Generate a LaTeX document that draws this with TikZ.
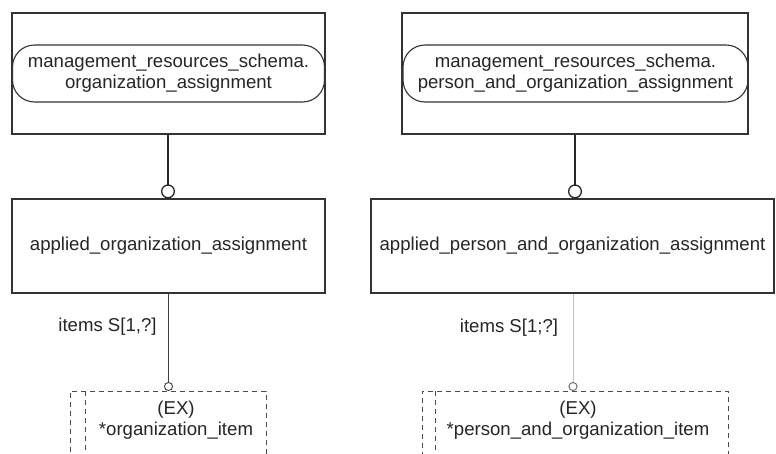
\documentclass[tikz,border=0pt]{standalone}
\usepackage{fontspec}
\setmainfont{Liberation Sans}
\usetikzlibrary{arrows.meta}
\begin{document}
\begin{tikzpicture}[x=1pt,y=-1pt,
  font=\fontsize{18.6}{21}\selectfont,
  every node/.style={text=black!85},
  entbox/.style={draw=black!80, line width=1.2pt, inner sep=0pt},
  refbox/.style={draw=black!80, line width=1.1pt, rounded corners=22pt, inner sep=0pt, align=center},
  exbox/.style={draw=black!70, line width=0.9pt, dash pattern=on 5pt off 4pt, inner sep=0pt},
  exline/.style={draw=black!70, line width=0.9pt, dash pattern=on 5pt off 4pt},
  supconn/.style={draw=black!85, line width=1.8pt, -{Circle[open,length=14pt,width=14pt,line width=1.3pt]}},
  attconn/.style={draw=black!75, line width=0.9pt, -{Circle[open,length=9pt,width=9pt,line width=0.9pt]}},
  lbl/.style={inner sep=0pt}
]
\clip (0,0) rectangle (776,453);
\fill[white] (0,0) rectangle (776,453);

% ---- left column ----
\node[entbox, minimum width=313pt, minimum height=121pt] (ta1) at (168.5,73.5) {};
\node[refbox, minimum width=312pt, minimum height=57pt] (tr1) at (168.5,73.5)
  {management\_resources\_schema.\\organization\_assignment};
\node[entbox, minimum width=313pt, minimum height=94pt] (bb1) at (168.5,246) {applied\_organization\_assignment};
\node[exbox, minimum width=196pt, minimum height=110pt, anchor=north] (ex1) at (168,391) {};
\draw[exline] ([xshift=16pt]ex1.north west) -- ([xshift=16pt]ex1.south west);
\node[lbl, align=center] (ex1t) at (176,420.5) {(EX)\\*organization\_item};
\node[lbl] (it1) at (107.5,327) {items S[1,?]};

\draw[supconn] ([xshift=-0.5pt]ta1.south) -- ([xshift=-0.5pt]ta1.south |- bb1.north);
\draw[attconn] (bb1.south) -- (bb1.south |- ex1.north);

% ---- right column ----
\node[entbox, minimum width=346pt, minimum height=121pt] (ta2) at (575,73.5) {};
\node[refbox, minimum width=345pt, minimum height=57pt] (tr2) at (575.5,73.5)
  {management\_resources\_schema.\\person\_and\_organization\_assignment};
\node[entbox, minimum width=403pt, minimum height=94pt] (bb2) at (572.5,246) {applied\_person\_and\_organization\_assignment};
\node[exbox, minimum width=306pt, minimum height=110pt, anchor=north] (ex2) at (575,391) {};
\draw[exline] ([xshift=14pt]ex2.north west) -- ([xshift=14pt]ex2.south west);
\node[lbl, align=center] (ex2t) at (578,420.5) {(EX)\\*person\_and\_organization\_item};
\node[lbl] (it2) at (509,328) {items S[1;?]};

\draw[supconn] (ta2.south) -- (ta2.south |- bb2.north);
\draw[draw=black!25, line width=0.8pt, -{Circle[open,length=9pt,width=9pt,line width=0.9pt,black!60]}] ([xshift=0.5pt]bb2.south) -- ([xshift=0.5pt]bb2.south |- ex2.north);
\end{tikzpicture}
\end{document}
